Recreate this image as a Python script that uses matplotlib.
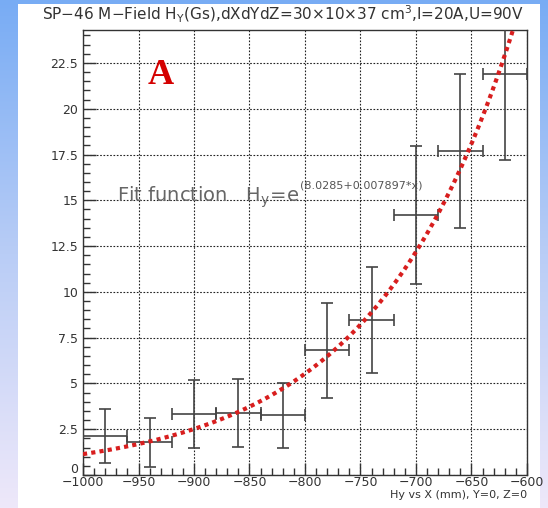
import numpy as np
import matplotlib
matplotlib.use("Agg")
import matplotlib.pyplot as plt
import matplotlib.transforms as mtransforms
from matplotlib.colors import LinearSegmentedColormap
from matplotlib.ticker import MultipleLocator

# Measured field H_y along X (Y=0, Z=0)
x_mm = [-980, -940, -900, -860, -820, -780, -740, -700, -660, -620]
x_err = [20, 20, 20, 20, 20, 20, 20, 20, 20, 20]
hy = [2.13, 1.78, 3.35, 3.38, 3.25, 6.8, 8.45, 14.2, 17.7, 21.9]
hy_err = [1.45, 1.35, 1.85, 1.85, 1.8, 2.6, 2.9, 3.75, 4.2, 4.7]

# Exponential fit parameters
fit_a = 8.0285
fit_b = 0.007897

W, H = 548, 508
fig = plt.figure(figsize=(W / 100, H / 100), dpi=100)

# Slide background: vertical blue-to-lavender gradient with white panel
bg = fig.add_axes([0, 0, 1, 1], zorder=-10)
cmap = LinearSegmentedColormap.from_list("bg", ["#78acf4", "#b9cdf6", "#eee8fa"])
grad = np.linspace(0, 1, 256).reshape(-1, 1)
bg.imshow(grad, aspect="auto", cmap=cmap, extent=[0, 1, 0, 1], origin="upper")
bg.add_patch(plt.Rectangle((18 / W, 0), (540 - 18) / W, 1 - 4 / H,
                           facecolor="white", edgecolor="none"))
bg.set_xlim(0, 1)
bg.set_ylim(0, 1)
bg.axis("off")

ax = fig.add_axes([83 / W, 33 / H, (527 - 83) / W, (475 - 30) / H])
ax.set_xlim(-1000, -600)
ax.set_ylim(0, 24.3)

ax.xaxis.set_major_locator(MultipleLocator(50))
ax.xaxis.set_minor_locator(MultipleLocator(10))
ax.yaxis.set_major_locator(MultipleLocator(2.5))
ax.yaxis.set_minor_locator(MultipleLocator(0.5))
ax.tick_params(which="both", direction="in", top=False, right=False,
               colors="#333333", labelcolor="#333333", labelsize=9)
ax.tick_params(which="major", length=9, width=1)
ax.tick_params(which="minor", length=5, width=1)
ax.tick_params(axis="x", pad=1)
ax.set_yticks(np.arange(0, 24, 2.5))
ax.set_yticklabels(["0", "2.5", "5", "7.5", "10", "12.5", "15", "17.5", "20", "22.5"])
ax.set_xticks(np.arange(-1000, -599, 50))
ax.set_xticklabels([f"\u2212{abs(v)}" for v in range(-1000, -599, 50)])
ax.grid(True, which="major", color="#222222", linestyle=(0, (1.5, 1.5)), linewidth=0.8)
for s in ax.spines.values():
    s.set_color("#333333")
    s.set_linewidth(1.0)

# Lift the y-axis "0" label so it sits above the first x label
zero_lbl = ax.get_yticklabels()[0]
zero_lbl.set_transform(zero_lbl.get_transform() +
                       mtransforms.ScaledTranslation(0, 5 / 72, fig.dpi_scale_trans))

# Data points with error bars
ax.errorbar(x_mm, hy, xerr=x_err, yerr=hy_err, fmt="none", ecolor="#444444",
            elinewidth=1.2, capsize=4, capthick=1.2, zorder=3)

# Fit curve
xf = np.linspace(-1000, -600, 400)
ax.plot(xf, np.exp(fit_a + fit_b * xf), color="#d81e1e", linestyle=(0, (1, 1)),
        linewidth=3.0, zorder=4)

ax.text(-930, 21.8, "A", color="#d40000", fontsize=26, fontweight="bold",
        family="Liberation Serif", ha="center", va="center")
fit_txt = ax.text(-969, 14.9, "Fit function   $\\mathregular{H_y\\!=\\!e}$",
                  color="#666666", fontsize=14, ha="left", va="baseline")
ax.annotate(f"({fit_a}+{fit_b}*x)", xy=(1, 1), xycoords=fit_txt,
            xytext=(0, -4), textcoords="offset points",
            color="#555555", fontsize=8, ha="left", va="bottom")

fig.text(283 / W, 1 - 14 / H,
         "SP\u221246 M\u2212Field H$_\\mathregular{Y}$(Gs),dXdYdZ=30\u00d710\u00d737 cm$^\\mathregular{3}$,I=20A,U=90V",
         ha="center", va="center", fontsize=11, color="#333333")
fig.text(527 / W, 1 - 495 / H, "Hy vs X (mm), Y=0, Z=0", ha="right", va="center",
         fontsize=8, color="#333333")

fig.savefig("out.png", dpi=100)
